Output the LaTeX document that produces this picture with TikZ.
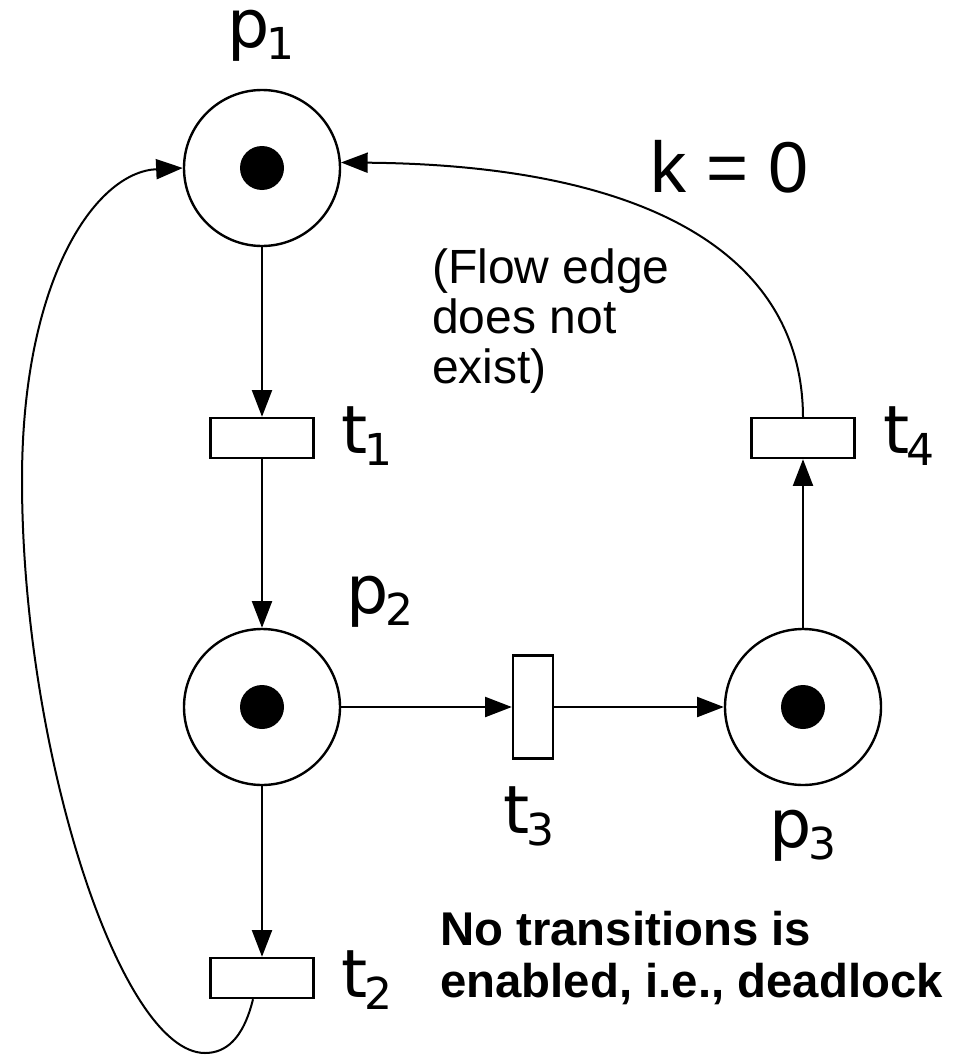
\documentclass[tikz,border=0pt]{standalone}
\usepackage{fontspec}
\setmainfont{DejaVu Sans}
\newfontfamily\arialf{Liberation Sans}
\usetikzlibrary{arrows.meta,calc}
\newcommand\sublab[2]{#1\kern-2pt\raisebox{-9pt}{\fontsize{33}{33}\selectfont #2}}
\begin{document}
\begin{tikzpicture}[x=0.75pt,y=-0.75pt,
  place/.style={circle,draw,line width=1.8pt,minimum size=117pt,inner sep=0pt},
  trans/.style={rectangle,draw,line width=1.8pt,minimum width=77pt,minimum height=30pt,inner sep=0pt},
  vtrans/.style={rectangle,draw,line width=1.8pt,minimum width=30pt,minimum height=77pt,inner sep=0pt},
  token/.style={circle,fill,minimum size=33pt,inner sep=0pt},
  arc/.style={line width=1.5pt,-{Triangle[length=20pt,width=15pt]}},
  lab/.style={font=\fontsize{50}{50}\selectfont,inner sep=0pt,anchor=base west}]
\useasboundingbox (0,0) rectangle (963,1056);
% places and transitions
\node[place] (p1) at (262,168) {};
\node[token] (k1) at (p1) {};
\node[trans] (t1) at (262,438) {};
\node[place] (p2) at (262,707) {};
\node[token] (k2) at (p2) {};
\node[trans] (t2) at (262,978) {};
\node[vtrans] (t3) at (533,707) {};
\node[place] (p3) at (803,707) {};
\node[token] (k3) at (p3) {};
\node[trans] (t4) at (803,438) {};
% labels
\node[lab] (lp1) at (227,48) {\sublab{p}{1}};
\node[lab] (lt1) at (341,453) {\sublab{t}{1}};
\node[lab] (lp2) at (346,613) {\sublab{p}{2}};
\node[lab] (lt3) at (503,833) {\sublab{t}{3}};
\node[lab] (lp3) at (769,847) {\sublab{p}{3}};
\node[lab] (lt4) at (883,453) {\sublab{t}{4}};
\node[lab] (lt2) at (341,997) {\sublab{t}{2}};
% texts
\node[font=\arialf\fontsize{54}{54}\selectfont,inner sep=0pt,anchor=base west] (kz) at (650,192) {k = 0};
\node[font=\arialf\fontsize{36}{37.5}\selectfont,inner sep=0pt,anchor=north west,align=left] (note) at (432,248) {(Flow edge\\does not\\exist)};
\node[font=\arialf\bfseries\fontsize{35.5}{39}\selectfont,inner sep=0pt,anchor=north west,align=left] (dead) at (440,911) {No transitions is\\enabled, i.e., deadlock};
% arcs
\draw[arc] (p1.south) -- (t1.north);
\draw[arc] (t1.south) -- (p2.north);
\draw[arc] (p2.east) -- (t3.west);
\draw[arc] (t3.east) -- (p3.west);
\draw[arc] (p3.north) -- (t4.south);
\draw[arc] (p2.south) -- (t2.north);
\draw[arc] (t4.north) .. controls (802,250) and (640,165) .. (p1.4);
\draw[arc] ($(t2.south)+(-9,0)$) .. controls (243,1040) and (225,1053) .. (205,1053)
  .. controls (120,1053) and (22,750) .. (22,480)
  .. controls (22,280) and (95,172) .. (p1.west);
\end{tikzpicture}
\end{document}
